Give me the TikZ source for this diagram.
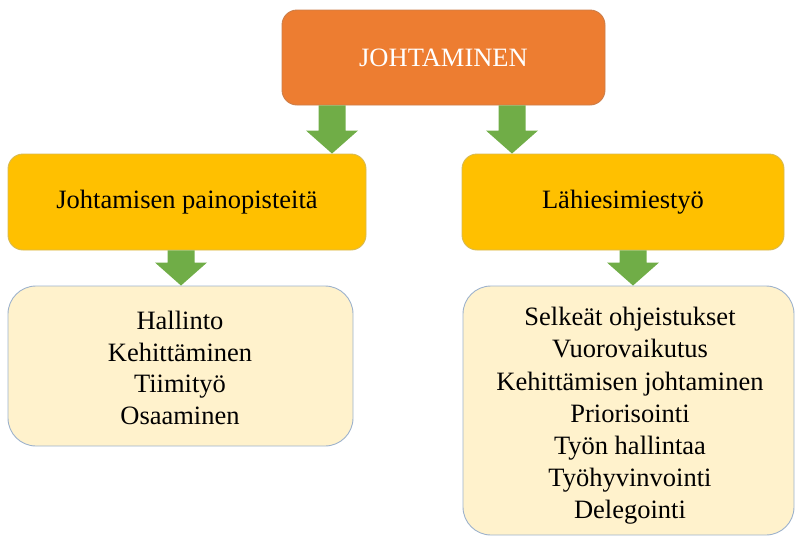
\documentclass[tikz,border=0pt]{standalone}
\usepackage{fontspec}
\setmainfont{Liberation Serif}
\usetikzlibrary{calc}
\definecolor{topor}{HTML}{ED7D31}
\definecolor{midyel}{HTML}{FFC000}
\definecolor{lowyel}{HTML}{FFF2CC}
\definecolor{arrgreen}{HTML}{70AD47}
\definecolor{edgeblue}{HTML}{9DB2CC}
\tikzset{
  box/.style={rectangle, draw=edgeblue, line width=0.9pt, align=center, inner sep=0pt,
    font=\fontsize{26.5}{32}\selectfont},
  topbox/.style={box, fill=topor, text=white, rounded corners=15pt, draw=topor!70!gray},
  midbox/.style={box, fill=midyel, rounded corners=15pt, draw=midyel!60!edgeblue},
  lowbox/.style={box, fill=lowyel, rounded corners=28pt},
  garrow/.style={fill=arrgreen}
}
\newcommand\blockarrow[3]{%
  \fill[garrow] let \p1=(#2.south), \p2=(#3.north) in
    (#1pt-13.5pt,\y1) -- (#1pt+13.5pt,\y1) -- (#1pt+13.5pt,\y2+23pt) -- (#1pt+26pt,\y2+23pt)
    -- (#1pt,\y2) -- (#1pt-26pt,\y2+23pt) -- (#1pt-13.5pt,\y2+23pt) -- cycle;}
\begin{document}
\begin{tikzpicture}[x=1pt,y=1pt]
\useasboundingbox (0,0) rectangle (795,-536);
\node[topbox, minimum width=323pt, minimum height=95pt] (top) at (443.5,-57.5) {JOHTAMINEN};
\node[midbox, minimum width=358pt, minimum height=96pt] (ml) at (187,-202) {Johtamisen painopisteitä};
\node[midbox, minimum width=322pt, minimum height=96pt] (mr) at (623,-202) {Lähiesimiestyö};
\node[lowbox, minimum width=345pt, minimum height=160pt] (ll) at (180.5,-366) {};
\node[lowbox, minimum width=331pt, minimum height=249pt] (lr) at (628.5,-410.5) {};
\node[font=\fontsize{26.5}{31.5}\selectfont, align=center] (llt) at (180,-368) {Hallinto\\Kehittäminen\\Tiimityö\\Osaaminen};
\node[font=\fontsize{26.5}{32.2}\selectfont, align=center] (lrt) at (630,-416) {Selkeät ohjeistukset\\Vuorovaikutus\\Kehittämisen johtaminen\\Priorisointi\\Työn hallintaa\\Työhyvinvointi\\Delegointi};
\blockarrow{332}{top}{ml}
\blockarrow{512}{top}{mr}
\blockarrow{181}{ml}{ll}
\blockarrow{633}{mr}{lr}
\end{tikzpicture}
\end{document}
